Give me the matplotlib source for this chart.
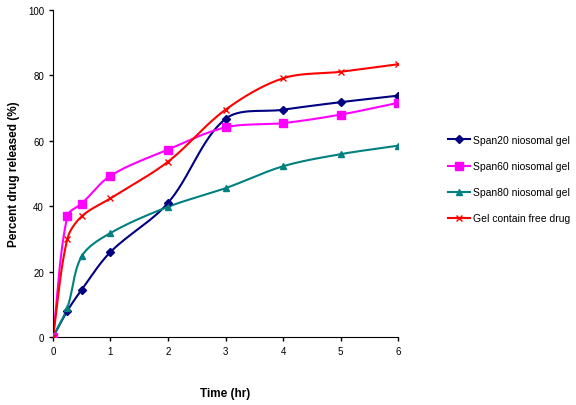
import numpy as np
import matplotlib
matplotlib.use('Agg')
import matplotlib.pyplot as plt

plt.rcParams['font.family'] = ['Liberation Sans', 'DejaVu Sans']

time_hr = [0, 0.25, 0.5, 1, 2, 3, 4, 5, 6]
span20 = [0, 8, 14.5, 26, 41, 66.7, 69.5, 71.8, 73.8]
span60 = [0, 37, 40.8, 49.3, 57.3, 64.1, 65.4, 68, 71.6]
span80 = [0, 9, 24.7, 31.8, 39.8, 45.5, 52.2, 55.9, 58.5]
free_drug = [0, 30, 36.9, 42.4, 53.6, 69.5, 79.1, 81.1, 83.4]

labels = ['Span20 niosomal gel', 'Span60 niosomal gel',
          'Span80 niosomal gel', 'Gel contain free drug']
colors = ['#000080', '#FF00FF', '#008080', '#FF0000']
markers = ['D', 's', '^', 'x']
msizes = [4.5, 6, 4, 5]


def smooth(x, y, sx=345 / 6, sy=327 / 100, n=30):
    # smoothed line through the points (chord-length bezier in screen space)
    p = np.column_stack([np.array(x) * sx, np.array(y) * sy])
    d = np.linalg.norm(np.diff(p, axis=0), axis=1)
    tang = []
    for i in range(len(p)):
        if i == 0:
            tang.append((p[1] - p[0]) / d[0])
        elif i == len(p) - 1:
            tang.append((p[-1] - p[-2]) / d[-1])
        else:
            tang.append((p[i + 1] - p[i - 1]) / (d[i - 1] + d[i]))
    out = [p[0]]
    for i in range(len(p) - 1):
        c1 = p[i] + tang[i] * d[i] / 3
        c2 = p[i + 1] - tang[i + 1] * d[i] / 3
        t = np.linspace(0, 1, n)[1:, None]
        seg = ((1 - t) ** 3) * p[i] + 3 * (1 - t) ** 2 * t * c1 + 3 * (1 - t) * t ** 2 * c2 + t ** 3 * p[i + 1]
        out.extend(seg)
    out = np.array(out)
    return out[:, 0] / sx, out[:, 1] / sy


fig = plt.figure(figsize=(5.76, 4.06), dpi=100)
ax = fig.add_axes([0.092, 0.1675, 0.599, 0.8055])

series = [span20, span60, span80, free_drug]
handles = []
for y, lab, c, m, ms in zip(series, labels, colors, markers, msizes):
    xs, ys = smooth(time_hr, y)
    ax.plot(xs, ys, color=c, lw=1.5, zorder=2)
    ax.plot(time_hr, y, ls='none', marker=m, color=c, ms=ms, mew=1, zorder=3)
    h, = ax.plot([], [], color=c, lw=1.5, marker=m, ms=ms, mew=1)
    handles.append(h)

ax.set_xlim(0, 6)
ax.set_ylim(0, 100)
ax.set_xticks(range(0, 7))
ax.set_yticks(range(0, 101, 20))
for s in ['top', 'right']:
    ax.spines[s].set_visible(False)
ax.tick_params(direction='out', length=3, labelsize=7, width=1)
ax.set_xlabel('Time (hr)', fontsize=8.5, fontweight='bold', labelpad=22)
ax.set_ylabel('Percent drug released (%)', fontsize=8.5, fontweight='bold', labelpad=6)

fig.legend(handles, labels, loc='upper left', bbox_to_anchor=(0.762, 0.688),
           frameon=False, fontsize=7.5, handlelength=2.1, labelspacing=1.55,
           handletextpad=0.3)

fig.savefig('out.png', dpi=100)
